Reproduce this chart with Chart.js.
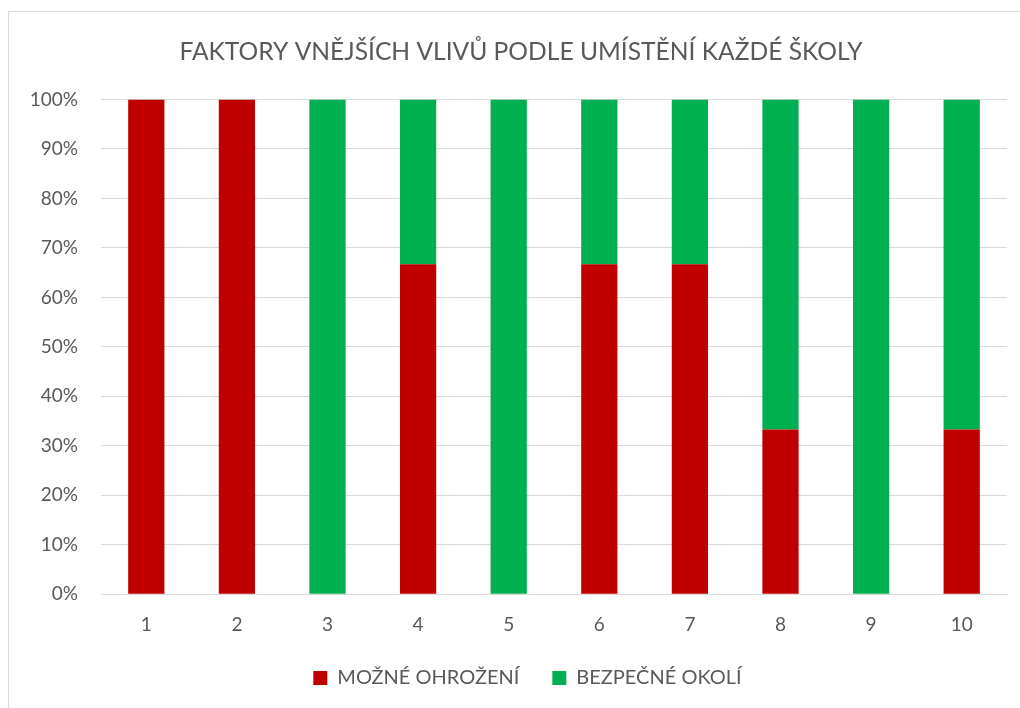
<!DOCTYPE html>
<html>
<head>
<meta charset="utf-8">
<script src="https://cdn.jsdelivr.net/npm/chart.js@4.4.0/dist/chart.umd.min.js"></script>
<style>
  body { margin: 0; background: #fff; overflow: hidden; }
  #graf { display: block; }
</style>
</head>
<body>
<canvas id="graf" width="1020" height="708"></canvas>
<script>
// skoly 1-10, podil v procentech
var skoly = ["1", "2", "3", "4", "5", "6", "7", "8", "9", "10"];
var mozneOhrozeni = [100, 100, 0, 66.7, 0, 66.7, 66.7, 33.3, 0, 33.3];
var bezpecneOkoli = [0, 0, 100, 33.3, 100, 33.3, 33.3, 66.7, 100, 66.7];
var nazevGrafu = "FAKTORY VNĚJŠÍCH VLIVŮ PODLE UMÍSTĚNÍ KAŽDÉ ŠKOLY";

Chart.defaults.font.family = "Lato, 'Open Sans', sans-serif";
Chart.defaults.color = "#595959";

// ramecek kolem grafu
var ramecek = {
  id: "ramecek",
  beforeDraw: function (chart) {
    var c = chart.ctx;
    c.save();
    c.fillStyle = "#fff";
    c.fillRect(0, 0, chart.width, chart.height);
    c.strokeStyle = "#d9d9d9";
    c.lineWidth = 1;
    c.strokeRect(8.5, 11.5, chart.width + 20, chart.height + 20);
    c.restore();
  }
};

// posun nadpisu a legendy na stred ramecku
var posun = {
  id: "posun",
  afterLayout: function (chart) {
    var t = chart.titleBlock;
    if (t) { t.left += 17.5; t.right += 17.5; }
    var l = chart.legend;
    if (l) { l.left += 24; l.right += 24; l.top -= 20; l.bottom -= 20; }
  }
};

var ctx = document.getElementById("graf");
var myChart = new Chart(ctx, {
  type: "bar",
  data: {
    labels: skoly,
    datasets: [{
      label: "MOŽNÉ OHROŽENÍ",
      data: mozneOhrozeni,
      backgroundColor: "#c00000",
      barPercentage: 0.4,
      categoryPercentage: 1
    }, {
      label: "BEZPEČNÉ OKOLÍ",
      data: bezpecneOkoli,
      backgroundColor: "#00b050",
      barPercentage: 0.4,
      categoryPercentage: 1
    }]
  },
  options: {
    responsive: false,
    animation: false,
    events: [],
    layout: { padding: { left: 0, right: 13, top: 37, bottom: -10 } },
    plugins: {
      title: {
        display: true,
        text: nazevGrafu,
        font: { size: 24.6, weight: "normal" },
        color: "#595959",
        padding: { top: 0, bottom: 33 }
      },
      legend: {
        position: "bottom",
        labels: {
          boxWidth: 14,
          boxHeight: 14,
          padding: 33,
          font: { size: 20 },
          color: "#595959"
        }
      },
      tooltip: { enabled: false }
    },
    scales: {
      x: {
        stacked: true,
        grid: { display: false, drawTicks: false },
        border: { display: true, color: "#d9d9d9" },
        ticks: { padding: 19, font: { size: 19 } }
      },
      y: {
        stacked: true,
        min: 0,
        max: 100,
        grid: { color: "#d9d9d9", drawTicks: false },
        border: { display: false },
        ticks: {
          stepSize: 10,
          padding: 23,
          font: { size: 19 },
          callback: function (v) { return v + "%"; }
        },
        afterFit: function (scale) { scale.width = 101; }
      }
    }
  },
  plugins: [ramecek, posun]
});
</script>
</body>
</html>
